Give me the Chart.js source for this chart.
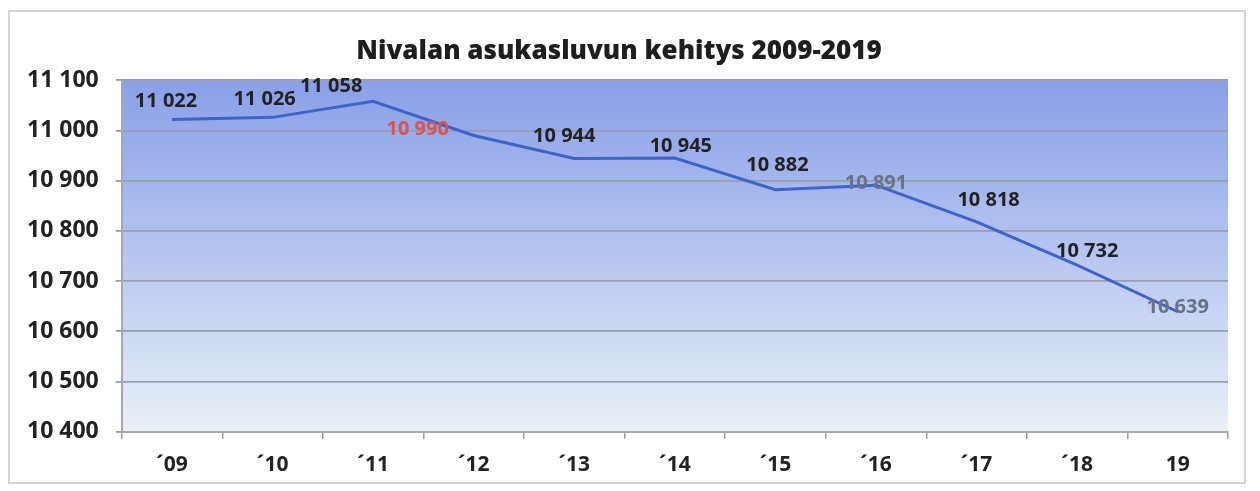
<!DOCTYPE html>
<html>
<head>
<meta charset="utf-8">
<script src="https://cdn.jsdelivr.net/npm/chart.js@4"></script>
<style>
  html, body { margin: 0; padding: 0; background: #fff; }
  #wrap { position: absolute; left: 8px; top: 10px; width: 1238px; height: 474px; border: 2px solid #d4d4d4; box-sizing: border-box; }
  canvas { position: absolute; left: 0; top: 0; }
</style>
</head>
<body>
<div id="wrap"><canvas id="chart" width="1234" height="470"></canvas></div>
<script>
const years = ['´09', '´10', '´11', '´12', '´13', '´14', '´15', '´16', '´17', '´18', '19'];
const population = [11022, 11026, 11058, 10990, 10944, 10945, 10882, 10891, 10818, 10732, 10639];
const yTicks = [10400, 10500, 10600, 10700, 10800, 10900, 11000, 11100];

function fmt(v) {
  return String(v).replace(/\B(?=(\d{3})+(?!\d))/g, ' ');
}

// label offsets relative to each point, and a few faded labels like in the original
const labelStyle = [
  { dx: -6, dy: -18, color: '#222' },
  { dx: -8, dy: -18, color: '#222' },
  { dx: -42, dy: -15, color: '#222' },
  { dx: -56, dy: -6, color: '#d9534f' },
  { dx: -10, dy: -22, color: '#222' },
  { dx: 6, dy: -12, color: '#222' },
  { dx: 2, dy: -24, color: '#222' },
  { dx: 0, dy: -2, color: '#6a7288' },
  { dx: 12, dy: -22, color: '#222' },
  { dx: 10, dy: -14, color: '#222' },
  { dx: 0, dy: -4, color: '#6a7288' }
];

const bgPlugin = {
  id: 'bg',
  beforeDraw(chart) {
    const { ctx, chartArea: a } = chart;
    const g = ctx.createLinearGradient(0, a.top, 0, a.bottom);
    g.addColorStop(0, '#8a9fe8');
    g.addColorStop(0.45, '#b2c2f0');
    g.addColorStop(1, '#eaf1f8');
    ctx.save();
    ctx.fillStyle = g;
    ctx.fillRect(a.left, a.top, a.right - a.left, a.bottom - a.top);
    ctx.restore();
  }
};

const labelPlugin = {
  id: 'pointLabels',
  afterDatasetsDraw(chart) {
    const { ctx } = chart;
    const meta = chart.getDatasetMeta(0);
    ctx.save();
    ctx.font = '700 20px "Open Sans", sans-serif';
    ctx.textAlign = 'center';
    ctx.textBaseline = 'middle';
    meta.data.forEach((pt, i) => {
      const s = labelStyle[i];
      ctx.fillStyle = s.color;
      ctx.fillText(fmt(population[i]), pt.x + s.dx, pt.y + s.dy);
    });
    ctx.restore();
  }
};

new Chart(document.getElementById('chart'), {
  type: 'line',
  data: {
    labels: years,
    datasets: [{
      data: population,
      borderColor: '#3f63c6',
      borderWidth: 3,
      pointRadius: 0,
      tension: 0,
      fill: false
    }]
  },
  options: {
    responsive: false,
    animation: false,
    layout: { padding: { left: 0, right: 16, top: 4, bottom: -10 } },
    plugins: {
      legend: { display: false },
      tooltip: { enabled: false },
      title: {
        display: true,
        text: 'Nivalan asukasluvun kehitys 2009-2019',
        color: '#1e1e1e',
        font: { family: '"Open Sans", sans-serif', size: 26, weight: '800' },
        padding: { top: 20, bottom: 13 }
      }
    },
    scales: {
      x: {
        offset: true,
        grid: { offset: true, drawOnChartArea: false, color: '#9a9a9a', tickLength: 7, lineWidth: 1.5 },
        border: { color: '#a8a8a8', width: 2 },
        ticks: { color: '#222', padding: 14, font: { family: '"Open Sans", sans-serif', size: 21, weight: '700' } }
      },
      y: {
        min: yTicks[0],
        max: yTicks[yTicks.length - 1],
        afterBuildTicks(axis) { axis.ticks = yTicks.map(v => ({ value: v })); },
        grid: { color: '#979db0', lineWidth: 1.8, tickLength: 6 },
        border: { color: '#a8a8a8', width: 2 },
        ticks: {
          color: '#222',
          padding: 17,
          font: { family: '"Open Sans", sans-serif', size: 23, weight: '700' },
          callback: v => fmt(v)
        }
      }
    }
  },
  plugins: [bgPlugin, labelPlugin]
});
</script>
</body>
</html>
